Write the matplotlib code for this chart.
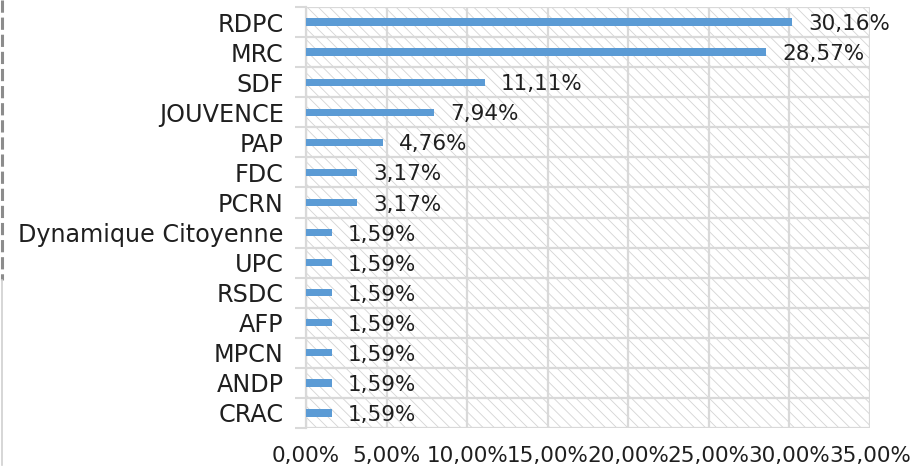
import matplotlib
matplotlib.use("Agg")
import matplotlib.pyplot as plt
from matplotlib.patches import Rectangle
from matplotlib.lines import Line2D
import numpy as np

categories = ["RDPC", "MRC", "SDF", "JOUVENCE", "PAP", "FDC", "PCRN",
              "Dynamique Citoyenne", "UPC", "RSDC", "AFP", "MPCN", "ANDP", "CRAC"]
values = [30.16, 28.57, 11.11, 7.94, 4.76, 3.17, 3.17,
          1.59, 1.59, 1.59, 1.59, 1.59, 1.59, 1.59]
xticks = [0, 5, 10, 15, 20, 25, 30, 35]
xtick_labels = ["0,00%", "5,00%", "10,00%", "15,00%", "20,00%", "25,00%", "30,00%", "35,00%"]

plt.rcParams['font.family'] = ['DejaVu Sans']
plt.rcParams['hatch.linewidth'] = 0.6
TXT = '#1f1f1f'
GRID = '#d9d9d9'
BAR = '#5b9bd5'
FS_CAT = 17.2
FS_NUM = 15.5

W, H = 915, 471
fig = plt.figure(figsize=(W / 100, H / 100), dpi=100)
ax = fig.add_axes([306 / W, (H - 428) / H, (870 - 306) / W, (428 - 7) / H])

n = len(categories)
ypos = np.arange(n)[::-1]

# hatched background
bg = Rectangle((0, 0), 1, 1, transform=ax.transAxes, facecolor='white',
               edgecolor='#d4d4d4', hatch='\\\\\\', linewidth=0, zorder=0)
ax.add_patch(bg)

ax.barh(ypos, values, height=0.24, color=BAR, zorder=3)

for y, v in zip(ypos, values):
    ax.text(v + 1.0, y - 0.07, f"{v:.2f}".replace('.', ',') + "%", va='center', ha='left',
            fontsize=FS_NUM, color=TXT, zorder=4)

ax.set_xlim(0, 35)
ax.set_ylim(-0.5, n - 0.5)

ax.set_xticks(xticks)
ax.set_xticklabels(xtick_labels, fontsize=FS_NUM, color=TXT)
ax.set_yticks(ypos)
ax.set_yticklabels(categories, fontsize=FS_CAT, color=TXT)
ax.set_yticks(np.arange(n + 1) - 0.5, minor=True)

ax.tick_params(axis='x', which='major', length=0, pad=13)
ax.tick_params(axis='y', which='major', length=0, pad=16)
ax.tick_params(axis='y', which='minor', length=8, width=1.5, color=GRID)

ax.grid(axis='x', which='major', color=GRID, linewidth=1.6, zorder=1)
ax.grid(axis='y', which='minor', color=GRID, linewidth=1.6, zorder=1)
ax.set_axisbelow(True)

for s in ['top', 'right', 'bottom']:
    ax.spines[s].set_visible(False)
ax.spines['left'].set_color(GRID)
ax.spines['left'].set_linewidth(1.6)

# outer frame remnants at left edge
fig.add_artist(Line2D([1.5 / W, 1.5 / W], [1, 1 - 280 / H], transform=fig.transFigure,
                      color='#8c8c8c', linewidth=2.2, linestyle=(0, (4, 1.6))))
fig.add_artist(Line2D([2 / W, 2 / W], [1 - 280 / H, 1 - 465 / H], transform=fig.transFigure,
                      color='#d0d0d0', linewidth=1.2))

fig.savefig("out.png", dpi=100, facecolor='white')
